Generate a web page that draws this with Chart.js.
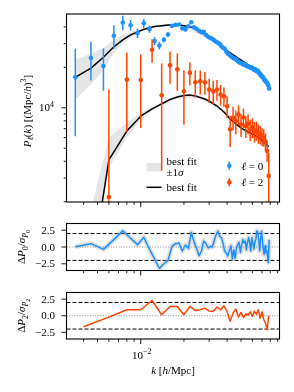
<!DOCTYPE html>
<html>
<head>
<meta charset="utf-8">
<script src="https://cdn.jsdelivr.net/npm/chart.js@4.4.0/dist/chart.umd.min.js"></script>
<style>
  html, body { margin: 0; padding: 0; background: #fff; }
  #wrap { position: relative; width: 294px; height: 392px; }
  canvas { position: absolute; left: 0; top: 0; }
</style>
</head>
<body>
<div id="wrap">
  <canvas id="cMain" width="294" height="392"></canvas>
  <canvas id="cRes0" width="294" height="392"></canvas>
  <canvas id="cRes2" width="294" height="392"></canvas>
</div>
<script>
/* monopole: k bins, measured P0, errors, best fit */
const k0 = [0.0035,0.0045,0.0055,0.0065,0.0075,0.0085,0.0095,0.0105,0.0115,0.0125,
  0.0135,0.0145,0.0155,0.0165,0.0175,0.0185,0.0195,0.0205,0.0215,0.0225,
  0.0235,0.0245,0.0255,0.0265,0.0275,0.0285,0.0295,0.0305,0.0315,0.0325,
  0.0335,0.0345,0.0355,0.0365,0.0375,0.0385,0.0395,0.0405,0.0415,0.0425,
  0.0435,0.0445,0.0455,0.0465,0.0475,0.0485,0.0495,0.0505,0.0515,0.0525,
  0.0535,0.0545,0.0555,0.0565,0.0575,0.0585,0.0595,0.0605,0.0615,0.0625,
  0.0635,0.0645,0.0655,0.0665,0.0675,0.0685,0.0695,0.0705,0.0715,0.0725,
  0.0735,0.0745,0.0755,0.0765,0.0775,0.0785];
const P0 = [16850,23450,20470,34330,43070,41180,35940,42630,38480,31350,
  29090,32060,35100,40700,41400,41730,39000,38340,40400,43300,
  39700,38680,37380,36430,36740,34910,33730,33170,32610,31780,
  30980,30460,29950,28700,27970,27500,26120,25250,24820,24200,
  23790,23380,23190,22800,22220,21840,21660,21470,21110,20930,
  21110,20570,20400,20220,20060,19890,19890,19550,19220,19390,
  18900,18730,18900,18260,17950,17650,17200,17060,16770,16200,
  15940,15660,15400,15140,14630,13900];
const sigP0 = [10700,7500,7100,6900,5300,3800,2800,3200,2400,2200,
  1900,1500,1400,1300,1200,1100,1050,1000,950,900,
  850,830,800,770,760,740,720,700,690,660,
  640,620,610,590,580,570,555,550,540,530,
  520,510,500,490,485,470,460,455,445,440,
  435,430,425,420,415,410,405,400,395,390,
  385,380,375,370,365,360,355,350,345,340,
  335,330,325,320,315,310];
const fit0 = [16850,19720,23790,28450,32060,34910,36740,38350,39450,40220,
  40700,41030,41270,41410,41410,41270,40990,40700,40270,39810,
  39330,38350,37380,36430,35510,34610,33730,32880,32060,31350,
  30660,29950,29290,28640,28060,27480,26940,26400,25900,25470,
  25030,24600,24200,23820,23460,23100,22790,22480,22180,21880,
  21580,21280,21040,20790,20540,19950,19720,19500,19280,19060,
  18840,18610,18380,18150,17900,17640,17380,17110,16840,16560,
  16280,15990,15700,15400,15100,14800];

/* quadrupole */
const k2 = [0.004,0.006,0.008,0.010,0.012,0.014,0.016,0.018,0.020,0.022,
  0.024,0.026,0.028,0.030,0.032,0.034,0.036,0.038,0.040,0.042,
  0.044,0.046,0.048,0.050,0.052,0.054,0.056,0.058,0.060,0.062,
  0.064,0.066,0.068,0.070,0.072,0.074,0.076,0.078];
const P2 = [1200,2170,16200,16080,27030,12400,20690,19320,13270,18260,
  15480,15740,15480,13670,13270,13670,12550,12190,10280,6910,
  8470,7960,8920,7520,8470,7310,7650,6910,7150,6675,
  6790,6450,6340,6130,6026,5625,4770,3113];
const sigP2 = [700,11500,9600,9000,5400,9000,5600,6000,5800,3600,
  3500,3200,3000,2800,2600,2400,2200,2000,1900,1800,
  1700,1600,1500,1450,1400,1350,1300,1250,1200,1150,
  1100,1050,1000,950,900,850,800,1500];
const fit2 = [260,4090,6710,8665,9830,10700,11520,12020,12330,12440,
  12230,11920,11620,11230,10760,10310,9800,9310,8770,8260,
  7920,7590,7330,7085,6910,6790,6620,6505,6395,6290,
  6130,6026,5875,5725,5580,5440,5260,5125];

/* +-1 sigma bands of the best fit */
const bandK0 = [0.0035,0.0045,0.0055,0.0065,0.0075,0.0085,0.0095,0.0105,0.0125,0.015,0.02,0.03,0.045,0.06,0.0785];
const band0Hi = [22800,25240,27810,32060,34910,36740,38300,39300,40900,41800,41500,33400,24900,20300,15050];
const band0Lo = [11520,14880,19220,25700,29950,33170,35300,37400,39600,40700,40300,32400,24200,19650,14550];
const bandK2 = [0.004,0.006,0.008,0.010,0.012,0.014,0.018,0.025,0.035,0.05,0.078];
const band2Hi = [1040,6000,7740,9180,10200,11000,12350,12450,10400,7250,5250];
const band2Lo = [220,3600,6000,8190,9450,10400,11700,11800,9850,6900,5000];

/* normalised residuals */
const res0 = [0.05,0.5,-0.35,1.1,2.4,1.3,0.35,1.45,-0.3,-1.8,
  -3.2,-2.5,-2.0,0.1,0.5,0.6,-0.6,0.3,-0.2,2.15,
  0.8,-0.2,-1.3,-0.6,0.9,0.5,-0.15,0.1,0.0,0.9,
  1.8,2.35,1.6,1.4,0.5,-0.6,-0.9,-1.35,-0.5,0.2,
  -1.8,-0.4,-1.7,-0.2,0.4,0.7,-0.8,0.3,1.1,0.6,
  0.9,-0.4,0.7,1.4,0.6,-0.6,1.4,0.5,-0.3,0.8,
  1.2,2.4,2.2,0.8,-0.6,1.3,2.35,0.9,-0.4,-1.1,
  0.2,-0.8,-0.5,-1.4,-2.3,1.1];
const res2 = [-1.65,-0.2,0.9,0.9,2.3,0.15,1.4,1.4,0.15,1.4,
  0.8,0.9,1.15,0.7,0.65,1.3,0.9,1.5,0.6,-0.85,
  0.4,1.0,-0.2,0.5,-0.3,0.3,0.1,0.6,-0.1,0.7,
  0.2,0.9,-0.4,0.6,-0.6,-1.1,-2.1,0.0];

/* axes */
const xRange = [0.00304, 0.0927];
const pRange = [1990, 49900];
const resRange = [-3.5, 3.5];
const xMajor = [0.01];
const xMinor = [0.004,0.005,0.006,0.007,0.008,0.009,0.02,0.03,0.04,0.05,0.06,0.07,0.08,0.09];
const pMajor = [10000];
const pMinor = [2000,3000,4000,5000,6000,7000,8000,9000,20000,30000,40000];
const resTicks = [2.5, 0, -2.5];
const resTickLabels = ['2.5', '0.0', '\u22122.5'];
const sigmaLines = [2, -2];

const BLUE = '#1e90ff';
const RED = '#ff4500';
const FONT = '"Liberation Serif", "DejaVu Serif", serif';
const FS = 11;

function pts(xs, ys) { return xs.map((v, i) => ({ x: v, y: ys[i] })); }

function fontFor(p, size) {
  const f = p.sub === 2 ? 0.55 : (p.sub || p.sup) ? 0.72 : 1;
  return (p.i ? 'italic ' : '') + (size * f).toFixed(2) + 'px ' + FONT;
}
function drawRuns(ctx, parts, x, y, size, align) {
  let total = 0;
  parts.forEach(p => { ctx.font = fontFor(p, size); p.w = ctx.measureText(p.t).width; total += p.w; });
  let cx = align === 'center' ? x - total / 2 : align === 'right' ? x - total : x;
  ctx.textAlign = 'left';
  ctx.textBaseline = 'alphabetic';
  parts.forEach(p => {
    ctx.font = fontFor(p, size);
    const dy = p.sub === 2 ? size * 0.4 : p.sub ? size * 0.2 : p.sup ? -size * 0.4 : 0;
    ctx.fillText(p.t, cx, y + dy);
    cx += p.w;
  });
}
function vLabel(ctx, parts, cx, cy, size) {
  ctx.save();
  ctx.translate(cx, cy);
  ctx.rotate(-Math.PI / 2);
  drawRuns(ctx, parts, 0, size * 0.35, size, 'center');
  ctx.restore();
}
function seg(ctx, x1, y1, x2, y2) {
  ctx.beginPath(); ctx.moveTo(x1, y1); ctx.lineTo(x2, y2); ctx.stroke();
}

/* vertical error bars, drawn under each dataset's markers */
const errorBars = {
  id: 'errorBars',
  beforeDatasetDraw(chart, args) {
    const ds = chart.data.datasets[args.index];
    if (!ds.errors) return;
    const { ctx, chartArea: a, scales: { x, y } } = chart;
    ctx.save();
    ctx.beginPath();
    ctx.rect(a.left, a.top, a.right - a.left, a.bottom - a.top);
    ctx.clip();
    ctx.strokeStyle = ds.backgroundColor;
    ctx.lineWidth = 1.5;
    ds.data.forEach((p, i) => {
      const e = ds.errors[i];
      const px = x.getPixelForValue(p.x);
      const lo = Math.max(p.y - e, 1);
      seg(ctx, px, y.getPixelForValue(lo), px, y.getPixelForValue(p.y + e));
    });
    ctx.restore();
  }
};

/* frame, ticks, tick labels, axis labels, legend */
const deco = {
  id: 'deco',
  beforeDatasetsDraw(chart, args, o) {
    if (!o.hlines) return;
    const { ctx, chartArea: a, scales: { y } } = chart;
    ctx.save();
    ctx.strokeStyle = '#000';
    ctx.lineWidth = 1;
    ctx.setLineDash([4, 2]);
    sigmaLines.forEach(v => { const py = y.getPixelForValue(v); seg(ctx, a.left, py, a.right, py); });
    ctx.strokeStyle = '#888';
    ctx.setLineDash([1, 1.6]);
    const p0 = y.getPixelForValue(0);
    seg(ctx, a.left, p0, a.right, p0);
    ctx.restore();
  },
  afterDraw(chart, args, o) {
    const { ctx, chartArea: a, scales: { x, y } } = chart;
    ctx.save();
    ctx.fillStyle = '#000';
    ctx.strokeStyle = '#000';
    ctx.lineWidth = 1.1;
    ctx.strokeRect(a.left, a.top, a.right - a.left, a.bottom - a.top);
    ctx.lineWidth = 0.9;
    xMinor.forEach(v => { const px = x.getPixelForValue(v); seg(ctx, px, a.bottom, px, a.bottom + 2.8); });
    xMajor.forEach(v => { const px = x.getPixelForValue(v); seg(ctx, px, a.bottom, px, a.bottom + 5); });
    (o.yMinor || []).forEach(v => { const py = y.getPixelForValue(v); seg(ctx, a.left, py, a.left - 2.8, py); });
    o.yMajor.forEach(v => { const py = y.getPixelForValue(v); seg(ctx, a.left, py, a.left - 5, py); });

    if (o.main) {
      drawRuns(ctx, [{ t: '10' }, { t: '4', sup: 1 }], a.left - 12.5, y.getPixelForValue(10000) + 3.6, FS, 'right');
      vLabel(ctx, [{ t: 'P', i: 1 }, { t: '\u2113', i: 1, sub: 1 }, { t: '(' }, { t: 'k', i: 1 }, { t: ') [(Mpc/' },
        { t: 'h', i: 1 }, { t: ')' }, { t: '3', sup: 1 }, { t: ']' }], 27, 111, FS);
      // legend
      ctx.fillStyle = 'rgba(0,0,0,0.1)';
      ctx.fillRect(146.5, 163, 15, 8.5);
      ctx.strokeStyle = '#000';
      ctx.lineWidth = 1.5;
      seg(ctx, 146.5, 187.3, 161.5, 187.3);
      ctx.fillStyle = '#000';
      drawRuns(ctx, [{ t: 'best fit' }], 166.5, 164.5, FS, 'left');
      drawRuns(ctx, [{ t: '\u00b11' }, { t: '\u03c3', i: 1 }], 166.5, 176, FS, 'left');
      drawRuns(ctx, [{ t: 'best fit' }], 166.5, 190.5, FS, 'left');
      [[BLUE, 165.7, '0'], [RED, 182.3, '2']].forEach(([c, ly, n]) => {
        ctx.strokeStyle = c; ctx.fillStyle = c; ctx.lineWidth = 1.5;
        seg(ctx, 229.3, ly - 4, 229.3, ly + 4);
        ctx.beginPath(); ctx.arc(229.3, ly, 2.3, 0, Math.PI * 2); ctx.fill();
        ctx.fillStyle = '#000';
        drawRuns(ctx, [{ t: '\u2113', i: 1 }, { t: ' = ' + n }], 241.5, ly + 4, FS, 'left');
      });
    } else {
      ctx.fillStyle = '#000';
      resTicks.forEach((v, i) => {
        drawRuns(ctx, [{ t: resTickLabels[i] }], a.left - 11.5, y.getPixelForValue(v) + 3.6, FS, 'right');
      });
      const n = o.ell;
      vLabel(ctx, [{ t: '\u0394' }, { t: 'P', i: 1 }, { t: n, sub: 1 }, { t: '/' }, { t: '\u03c3', i: 1 },
        { t: 'P', i: 1, sub: 1 }, { t: n, sub: 2 }], 21.5, (a.top + a.bottom) / 2, FS);
      if (o.bottom) {
        drawRuns(ctx, [{ t: '10' }, { t: '\u22122', sup: 1 }], x.getPixelForValue(0.01) + 1, a.bottom + 19.5, FS, 'center');
        drawRuns(ctx, [{ t: 'k', i: 1 }, { t: ' [' }, { t: 'h', i: 1 }, { t: '/Mpc]' }], 173, a.bottom + 35, FS, 'center');
      }
    }
    ctx.restore();
  }
};

function baseOptions(pad, yScale, decoOpts) {
  return {
    responsive: false,
    animation: false,
    devicePixelRatio: 1,
    events: [],
    layout: { padding: pad },
    plugins: { legend: { display: false }, tooltip: { enabled: false }, deco: decoOpts },
    scales: {
      x: { type: 'logarithmic', min: xRange[0], max: xRange[1], display: false },
      y: Object.assign({ display: false }, yScale)
    }
  };
}

const lineDs = (data, color, width, order) => ({
  data: data, borderColor: color, borderWidth: width, pointRadius: 0, tension: 0,
  fill: false, borderJoinStyle: 'round', order: order, clip: 0
});

new Chart(document.getElementById('cMain'), {
  type: 'line',
  data: {
    datasets: [
      { data: pts(bandK0, band0Hi), borderWidth: 0, pointRadius: 0, fill: '+1', backgroundColor: 'rgba(0,0,0,0.1)', order: 6, clip: 0 },
      { data: pts(bandK0, band0Lo), borderWidth: 0, pointRadius: 0, fill: false, order: 6, clip: 0 },
      { data: pts(bandK2, band2Hi), borderWidth: 0, pointRadius: 0, fill: '+1', backgroundColor: 'rgba(0,0,0,0.1)', order: 5, clip: 0 },
      { data: pts(bandK2, band2Lo), borderWidth: 0, pointRadius: 0, fill: false, order: 5, clip: 0 },
      lineDs(pts(k0, fit0), '#000', 1.5, 4),
      lineDs(pts(k2, fit2), '#000', 1.5, 3),
      { data: pts(k0, P0), errors: sigP0, showLine: false, pointRadius: 2.3, pointBorderWidth: 0,
        backgroundColor: BLUE, borderColor: BLUE, order: 2, clip: 0 },
      { data: pts(k2, P2), errors: sigP2, showLine: false, pointRadius: 2.3, pointBorderWidth: 0,
        backgroundColor: RED, borderColor: RED, order: 1, clip: 0 }
    ]
  },
  options: baseOptions({ left: 66.5, right: 14.5, top: 14, bottom: 190 },
    { type: 'logarithmic', min: pRange[0], max: pRange[1] },
    { main: true, yMajor: pMajor, yMinor: pMinor }),
  plugins: [errorBars, deco]
});

new Chart(document.getElementById('cRes0'), {
  type: 'line',
  data: {
    datasets: [
      lineDs(pts(k0, res0), 'rgba(150,150,150,0.3)', 5, 2),
      lineDs(pts(k0, res0), BLUE, 1.5, 1)
    ]
  },
  options: baseOptions({ left: 66.5, right: 14.5, top: 223.5, bottom: 121.5 },
    { type: 'linear', min: resRange[0], max: resRange[1] },
    { main: false, hlines: true, yMajor: resTicks, ell: '0' }),
  plugins: [deco]
});

new Chart(document.getElementById('cRes2'), {
  type: 'line',
  data: {
    datasets: [lineDs(pts(k2, res2), RED, 1.5, 1)]
  },
  options: baseOptions({ left: 66.5, right: 14.5, top: 292.5, bottom: 53 },
    { type: 'linear', min: resRange[0], max: resRange[1] },
    { main: false, hlines: true, yMajor: resTicks, ell: '2', bottom: true }),
  plugins: [deco]
});
</script>
</body>
</html>
